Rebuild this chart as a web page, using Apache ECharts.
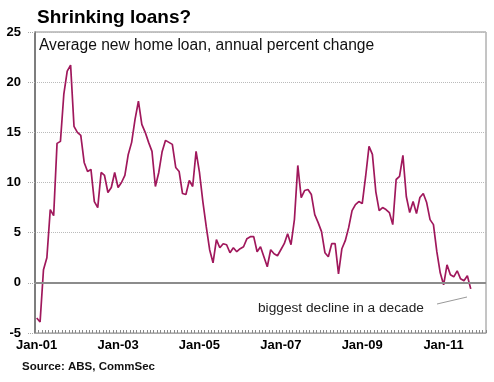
<!DOCTYPE html>
<html>
<head>
<meta charset="utf-8">
<script src="https://cdn.jsdelivr.net/npm/echarts@6/dist/echarts.min.js"></script>
<style>
html,body{margin:0;padding:0;background:#fff;}
#chart{width:494px;height:382px;}
</style>
</head>
<body>
<div id="chart"></div>
<script>
// Month labels for the category axis (Jan-01 .. Jan-12)
var monthNames = ['Jan','Feb','Mar','Apr','May','Jun','Jul','Aug','Sep','Oct','Nov','Dec'];
var yearLabels = ['01','02','03','04','05','06','07','08','09','10','11','12'];
var categories = [];
for (var y = 0; y < yearLabels.length; y++) {
  for (var m = 0; m < 12; m++) {
    categories.push(monthNames[m] + '-' + yearLabels[y]);
    if (y === yearLabels.length - 1) break; // last entry Jan-12
  }
}

// Average new home loan, annual percent change (Jan-01 .. Sep-11)
var loanChange = [
  -3.5, -3.9, 1.3, 2.5, 7.3, 6.7, 13.9, 14.1, 18.8, 21.1,
  21.7, 15.6, 15.0, 14.7, 12.0, 11.1, 11.3, 8.1, 7.5, 11.0,
  10.7, 9.0, 9.5, 11.0, 9.5, 10.0, 10.7, 12.8, 14.0, 16.3,
  18.1, 15.8, 15.0, 14.0, 13.1, 9.6, 11.0, 13.1, 14.2, 14.0,
  13.8, 11.5, 11.1, 8.9, 8.8, 10.2, 9.6, 13.1, 11.0, 8.1,
  5.6, 3.3, 2.0, 4.3, 3.5, 3.9, 3.8, 3.0, 3.5, 3.1,
  3.4, 3.6, 4.4, 4.6, 4.6, 3.1, 3.6, 2.6, 1.6, 3.3,
  2.9, 2.7, 3.3, 3.9, 4.9, 3.8, 6.3, 11.7, 8.5, 9.2,
  9.3, 8.8, 6.8, 6.0, 5.1, 3.0, 2.6, 3.9, 3.9, 0.9,
  3.4, 4.2, 5.5, 7.2, 7.8, 8.1, 7.9, 10.6, 13.6, 12.8,
  9.1, 7.2, 7.5, 7.3, 7.0, 5.8, 10.3, 10.6, 12.7, 8.6,
  7.0, 8.1, 6.9, 8.5, 8.9, 8.0, 6.3, 5.8, 3.1, 1.0,
  -0.2, 1.8, 0.8, 0.6, 1.2, 0.4, 0.2, 0.7, -0.6
];

var yMin = -5, yMax = 25, yStep = 5;
var titleText = 'Shrinking loans?';
var subtitleText = 'Average new home loan, annual percent change';
var noteText = 'biggest decline in a decade';
var sourceText = 'Source: ABS, CommSec';

var FONT = '"Liberation Sans", Arial, Helvetica, sans-serif';
var chart = echarts.init(document.getElementById('chart'), null, {renderer: 'canvas'});
chart.setOption({
  animation: false,
  backgroundColor: '#fff',
  title: {
    text: titleText,
    left: 37, top: 8, padding: 0,
    textStyle: {fontFamily: FONT, fontSize: 19, fontWeight: 'bold', color: '#000'}
  },
  grid: {
    left: 35, right: 8, top: 32, bottom: 49,
    show: true, borderColor: '#8a8a8a', borderWidth: 1
  },
  xAxis: {
    type: 'category',
    data: categories,
    boundaryGap: true,
    axisLine: {show: true, onZero: false, lineStyle: {color: '#aaa', width: 1}},
    axisTick: {show: true, inside: true, interval: 0, length: 3, lineStyle: {color: '#888'}},
    axisLabel: {
      interval: 23, margin: 6,
      fontFamily: FONT, fontSize: 13, fontWeight: 'bold', color: '#000'
    },
    splitLine: {show: false}
  },
  yAxis: {
    type: 'value',
    min: yMin, max: yMax, interval: yStep,
    axisLine: {show: true, lineStyle: {color: '#666', width: 1.5}},
    axisTick: {show: true, length: 8, lineStyle: {color: '#aaa', type: 'dotted'}},
    axisLabel: {margin: 14, fontFamily: FONT, fontSize: 13, fontWeight: 'bold', color: '#000'},
    splitLine: {show: true, lineStyle: {color: '#bbb', type: 'dotted', width: 1}}
  },
  series: [{
    type: 'line',
    data: loanChange,
    symbol: 'none',
    smooth: false,
    lineStyle: {color: '#a0185c', width: 1.7},
    markLine: {
      silent: true,
      symbol: ['none', 'none'],
      label: {show: false},
      lineStyle: {color: '#8c8c8c', width: 2, type: 'solid'},
      data: [{yAxis: 0}]
    },
    z: 3
  }],
  graphic: [
    {type: 'text', left: 39, top: 38,
     style: {text: subtitleText, font: '15.6px ' + FONT, fill: '#111'}},
    {type: 'text', left: 258, top: 301,
     style: {text: noteText, font: '13.7px ' + FONT, fill: '#222'}},
    {type: 'line', shape: {x1: 437, y1: 304, x2: 467, y2: 297},
     style: {stroke: '#999', lineWidth: 1}},
    {type: 'text', left: 22, top: 361,
     style: {text: sourceText, font: 'bold 11.5px ' + FONT, fill: '#111'}}
  ]
});
</script>
</body>
</html>
